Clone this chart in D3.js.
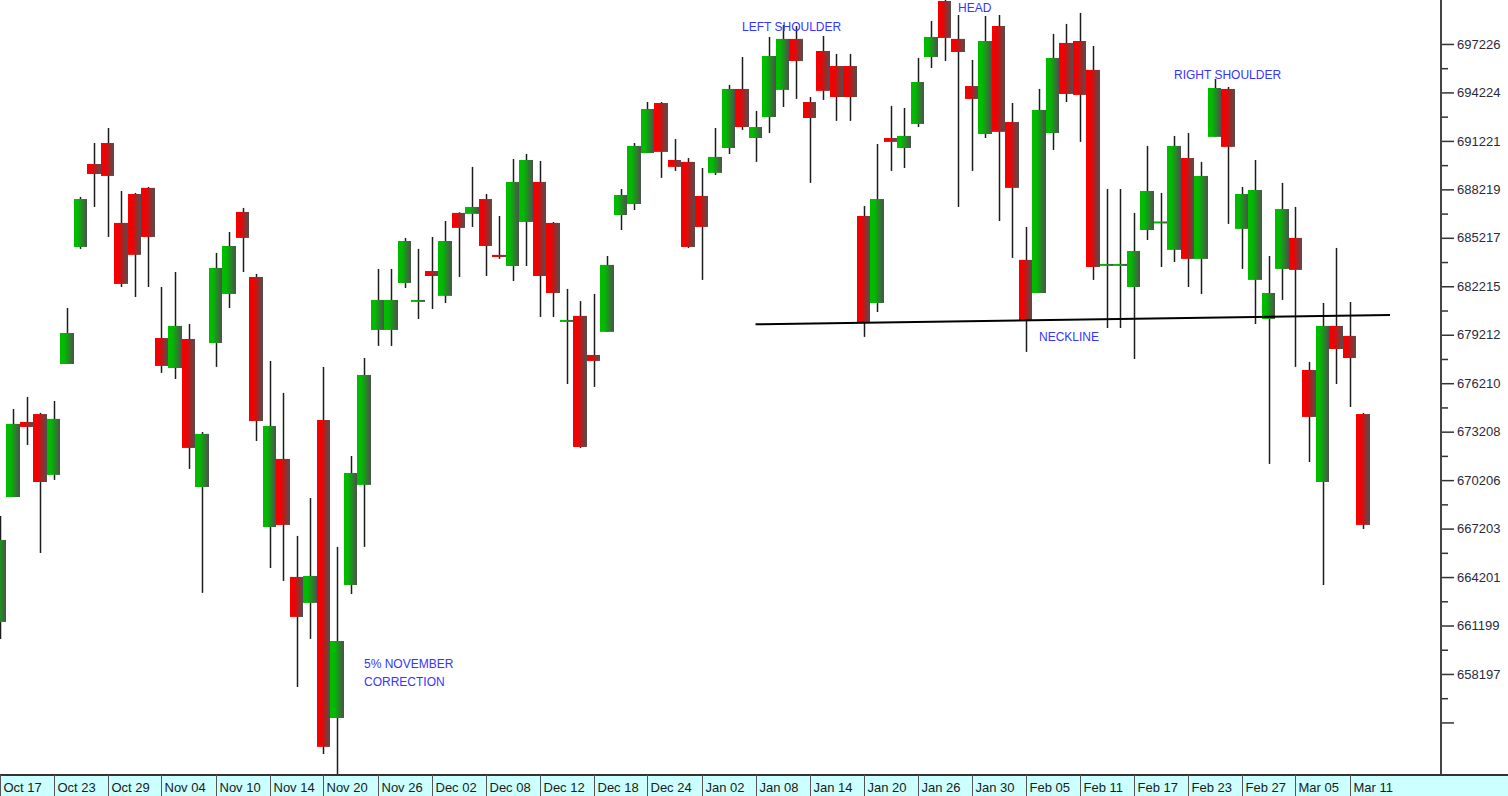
<!DOCTYPE html>
<html>
<head>
<meta charset="utf-8">
<script src="https://cdn.jsdelivr.net/npm/d3@7"></script>
<style>
  body { margin: 0; background: #fff; overflow: hidden; }
  text { font-family: "Liberation Sans", Arial, sans-serif; }
</style>
</head>
<body>
<div id="chart"></div>
<script>
const opens = [661420,669160,673810,674300,670530,677400,684650,689790,691090,686140,687930,688310,679010,677150,678950,669780,678700,681740,686820,682790,667300,671520,664210,662600,673930,655470,663710,669910,679510,679510,682420,681270,683160,681620,686760,686700,687620,684160,683470,686200,688680,686140,680030,680380,677960,679390,686630,687310,690470,693570,690040,689920,687810,689240,690780,694440,691400,692700,694380,697540,693630,696790,695860,695860,686570,681180,691400,690780,692270,696420,699890,697540,694620,691650,698340,692390,683850,681800,691710,697290,697410,695620,683540,683540,682170,685700,686200,684470,690160,683910,691470,694440,685770,682610,680190,683290,685210,677030,670090,679760,679140,674300];
const highs = [667990,674610,675360,674370,675110,680870,687750,691090,692020,688120,688000,688370,682170,683100,679880,673190,684280,685580,687070,682980,677590,675610,666750,669100,677220,666070,671700,677770,683290,683290,685210,684530,685270,686260,686800,689610,687930,686570,690100,690410,689980,686200,682050,681300,681740,684090,688240,691090,693630,693630,691340,690160,689540,692020,694690,696420,693080,697660,698400,698340,693940,697720,696610,696610,687190,691030,693390,693260,696360,698650,700140,699020,696240,698960,699020,693570,685890,694440,697850,698470,699150,697100,688240,688240,686760,690910,688000,691530,691710,689920,695060,694560,688370,690040,684090,688620,687130,677530,681180,684590,681240,674360];
const lows = [660370,669160,672380,665690,670220,677400,684530,687130,685270,682170,681550,682170,676850,676470,670900,663220,677220,680870,683100,672630,664760,663960,657390,660370,653240,651940,663150,666070,678520,678520,682110,680190,680810,681180,682790,685890,682850,683910,682540,683470,680310,680310,676160,672200,675980,679390,685700,686940,690470,688930,689360,684590,682610,689110,690410,691900,689920,691710,693320,693820,688620,693760,692460,692460,679080,680620,689360,689540,692080,695740,696170,687130,689360,691400,686260,683970,678150,681800,690660,693630,691160,682610,679630,679630,677710,685080,683410,683720,682170,681740,691470,686080,683290,679880,671210,681370,677220,671330,663710,676160,674740,667180];
const closes = [666500,673690,673500,670090,674000,679320,687620,689170,689050,682360,684160,685270,677280,679760,672200,673070,683350,684710,685210,673870,673560,667430,661730,664270,653680,660240,670650,676720,681370,681370,685020,681370,682850,685020,685830,687130,684710,684030,688680,690040,682850,681800,680130,672260,677590,683540,687870,690910,693200,690540,689610,684650,685890,690230,694440,692080,692080,696480,697540,696170,692640,694320,693940,693940,679940,687620,691160,691530,694870,697660,697600,696730,693820,697410,691780,688310,680130,693140,696360,694130,694070,683410,683600,683600,684400,688120,686230,690910,683910,689050,694500,690850,687930,688180,681800,687000,683230,674120,679760,678330,677770,667430];

const dateTicks = ["Oct 17","Oct 23","Oct 29","Nov 04","Nov 10","Nov 14","Nov 20","Nov 26","Dec 02","Dec 08","Dec 12","Dec 18","Dec 24","Jan 02","Jan 08","Jan 14","Jan 20","Jan 26","Jan 30","Feb 05","Feb 11","Feb 17","Feb 23","Feb 27","Mar 05","Mar 11"];
const daysPerTick = 4;
const priceTicks = [697226,694224,691221,688219,685217,682215,679212,676210,673208,670206,667203,664201,661199,658197,655195];

const neckline = [[56, 679860], [103, 680440]];
const notes = [
  { text: "LEFT SHOULDER", day: 55, price: 698030 },
  { text: "HEAD", day: 71, price: 699190 },
  { text: "RIGHT SHOULDER", day: 87, price: 695060 },
  { text: "NECKLINE", day: 77, price: 678830 },
  { text: "5% NOVEMBER", day: 27, price: 658570 },
  { text: "CORRECTION", day: 27, price: 657450 }
];

const width = 1508;
const height = 796;
const plotRight = 1441;
const plotBottom = 775;

const candles = opens.map((o, i) => ({ i, o, h: highs[i], l: lows[i], c: closes[i] }));

const svg = d3.select("#chart")
  .append("svg")
  .attr("width", width)
  .attr("height", height);

const defs = svg.append("defs");
const gradients = { up: "#00bb00", down: "#f40000" };
Object.entries(gradients).forEach(([key, col]) => {
  const g = defs.append("linearGradient").attr("id", "grad-" + key)
    .attr("x1", 0).attr("x2", 1).attr("y1", 0).attr("y2", 0);
  g.append("stop").attr("offset", "0%").attr("stop-color", col);
  g.append("stop").attr("offset", "30%").attr("stop-color", col);
  g.append("stop").attr("offset", "100%").attr("stop-color", "#4f4f4f");
});
defs.append("clipPath").attr("id", "plot-clip")
  .append("rect").attr("x", 0).attr("y", 0).attr("width", plotRight).attr("height", plotBottom);

const x = d3.scaleLinear()
  .domain([0, candles.length - 1])
  .range([-0.5, 1363]);

const y = d3.scaleLinear()
  .domain([652000, 699950])
  .range([plotBottom - 1, 0]);

const step = x(1) - x(0);

const plot = svg.append("g").attr("clip-path", "url(#plot-clip)");

// wicks
plot.selectAll(".wick")
  .data(candles)
  .enter()
  .append("line")
  .attr("class", "wick")
  .attr("x1", (d) => Math.round(x(d.i)) + 0.5)
  .attr("x2", (d) => Math.round(x(d.i)) + 0.5)
  .attr("y1", (d) => y(d.h))
  .attr("y2", (d) => y(d.l))
  .attr("stroke", "#1c1c1c")
  .attr("stroke-width", 1.5);

// bodies
plot.selectAll(".body")
  .data(candles)
  .enter()
  .append("rect")
  .attr("class", "body")
  .attr("x", (d) => Math.round(x(d.i) - step / 2))
  .attr("width", (d) => Math.round(x(d.i) + step / 2) - Math.round(x(d.i) - step / 2))
  .attr("y", (d) => y(Math.max(d.o, d.c)))
  .attr("height", (d) => Math.max(2, Math.abs(y(d.o) - y(d.c))))
  .attr("fill", (d) => (d.c >= d.o ? "url(#grad-up)" : "url(#grad-down)"));

// neckline
plot.append("path")
  .datum(neckline)
  .attr("fill", "none")
  .attr("stroke", "#000")
  .attr("stroke-width", 2)
  .attr("d", d3.line().x((d) => x(d[0])).y((d) => y(d[1])));

// annotations
plot.selectAll(".note")
  .data(notes)
  .enter()
  .append("text")
  .attr("class", "note")
  .attr("x", (d) => x(d.day))
  .attr("y", (d) => y(d.price))
  .attr("fill", "#3535ff")
  .attr("font-size", 12)
  .text((d) => d.text);

// right price axis
const yAxis = d3.axisRight(y)
  .tickValues(priceTicks)
  .tickSize(13)
  .tickPadding(3)
  .tickFormat((d, k) => (k < priceTicks.length - 1 ? d : ""));

const yAxisG = svg.append("g")
  .attr("transform", `translate(${plotRight}, 0)`)
  .call(yAxis);
yAxisG.select(".domain").remove();
yAxisG.selectAll("line").attr("stroke", "#333").attr("stroke-width", 1.5);
yAxisG.selectAll("text").attr("font-size", 13).attr("fill", "#2a2a3a")
  .attr("font-family", "'Liberation Sans', Arial, sans-serif");

const minorTicks = d3.pairs(priceTicks).map(([a, b]) => (a + b) / 2);
const yMinor = svg.append("g")
  .attr("transform", `translate(${plotRight}, 0)`)
  .call(d3.axisRight(y).tickValues(minorTicks).tickSize(7).tickFormat(""));
yMinor.select(".domain").remove();
yMinor.selectAll("line").attr("stroke", "#333").attr("stroke-width", 1.5);

svg.append("line")
  .attr("x1", plotRight).attr("x2", plotRight)
  .attr("y1", 0).attr("y2", plotBottom)
  .attr("stroke", "#444")
  .attr("stroke-width", 2);

// date band
svg.append("rect")
  .attr("x", 0).attr("y", plotBottom)
  .attr("width", width).attr("height", height - plotBottom)
  .attr("fill", "#ccffff");

svg.append("line")
  .attr("x1", 0).attr("x2", width)
  .attr("y1", plotBottom).attr("y2", plotBottom)
  .attr("stroke", "#333")
  .attr("stroke-width", 2);

const dateG = svg.selectAll(".date")
  .data(dateTicks)
  .enter()
  .append("g")
  .attr("class", "date")
  .attr("transform", (d, k) => `translate(${Math.round(x(k * daysPerTick)) + 0.5}, ${plotBottom})`);

dateG.append("line")
  .attr("y1", 0).attr("y2", height - plotBottom)
  .attr("stroke", "#555")
  .attr("stroke-width", 1);

dateG.append("text")
  .attr("x", 3)
  .attr("y", 17)
  .attr("font-size", 13)
  .attr("fill", "#1a1a1a")
  .text((d) => d);
</script>
</body>
</html>
